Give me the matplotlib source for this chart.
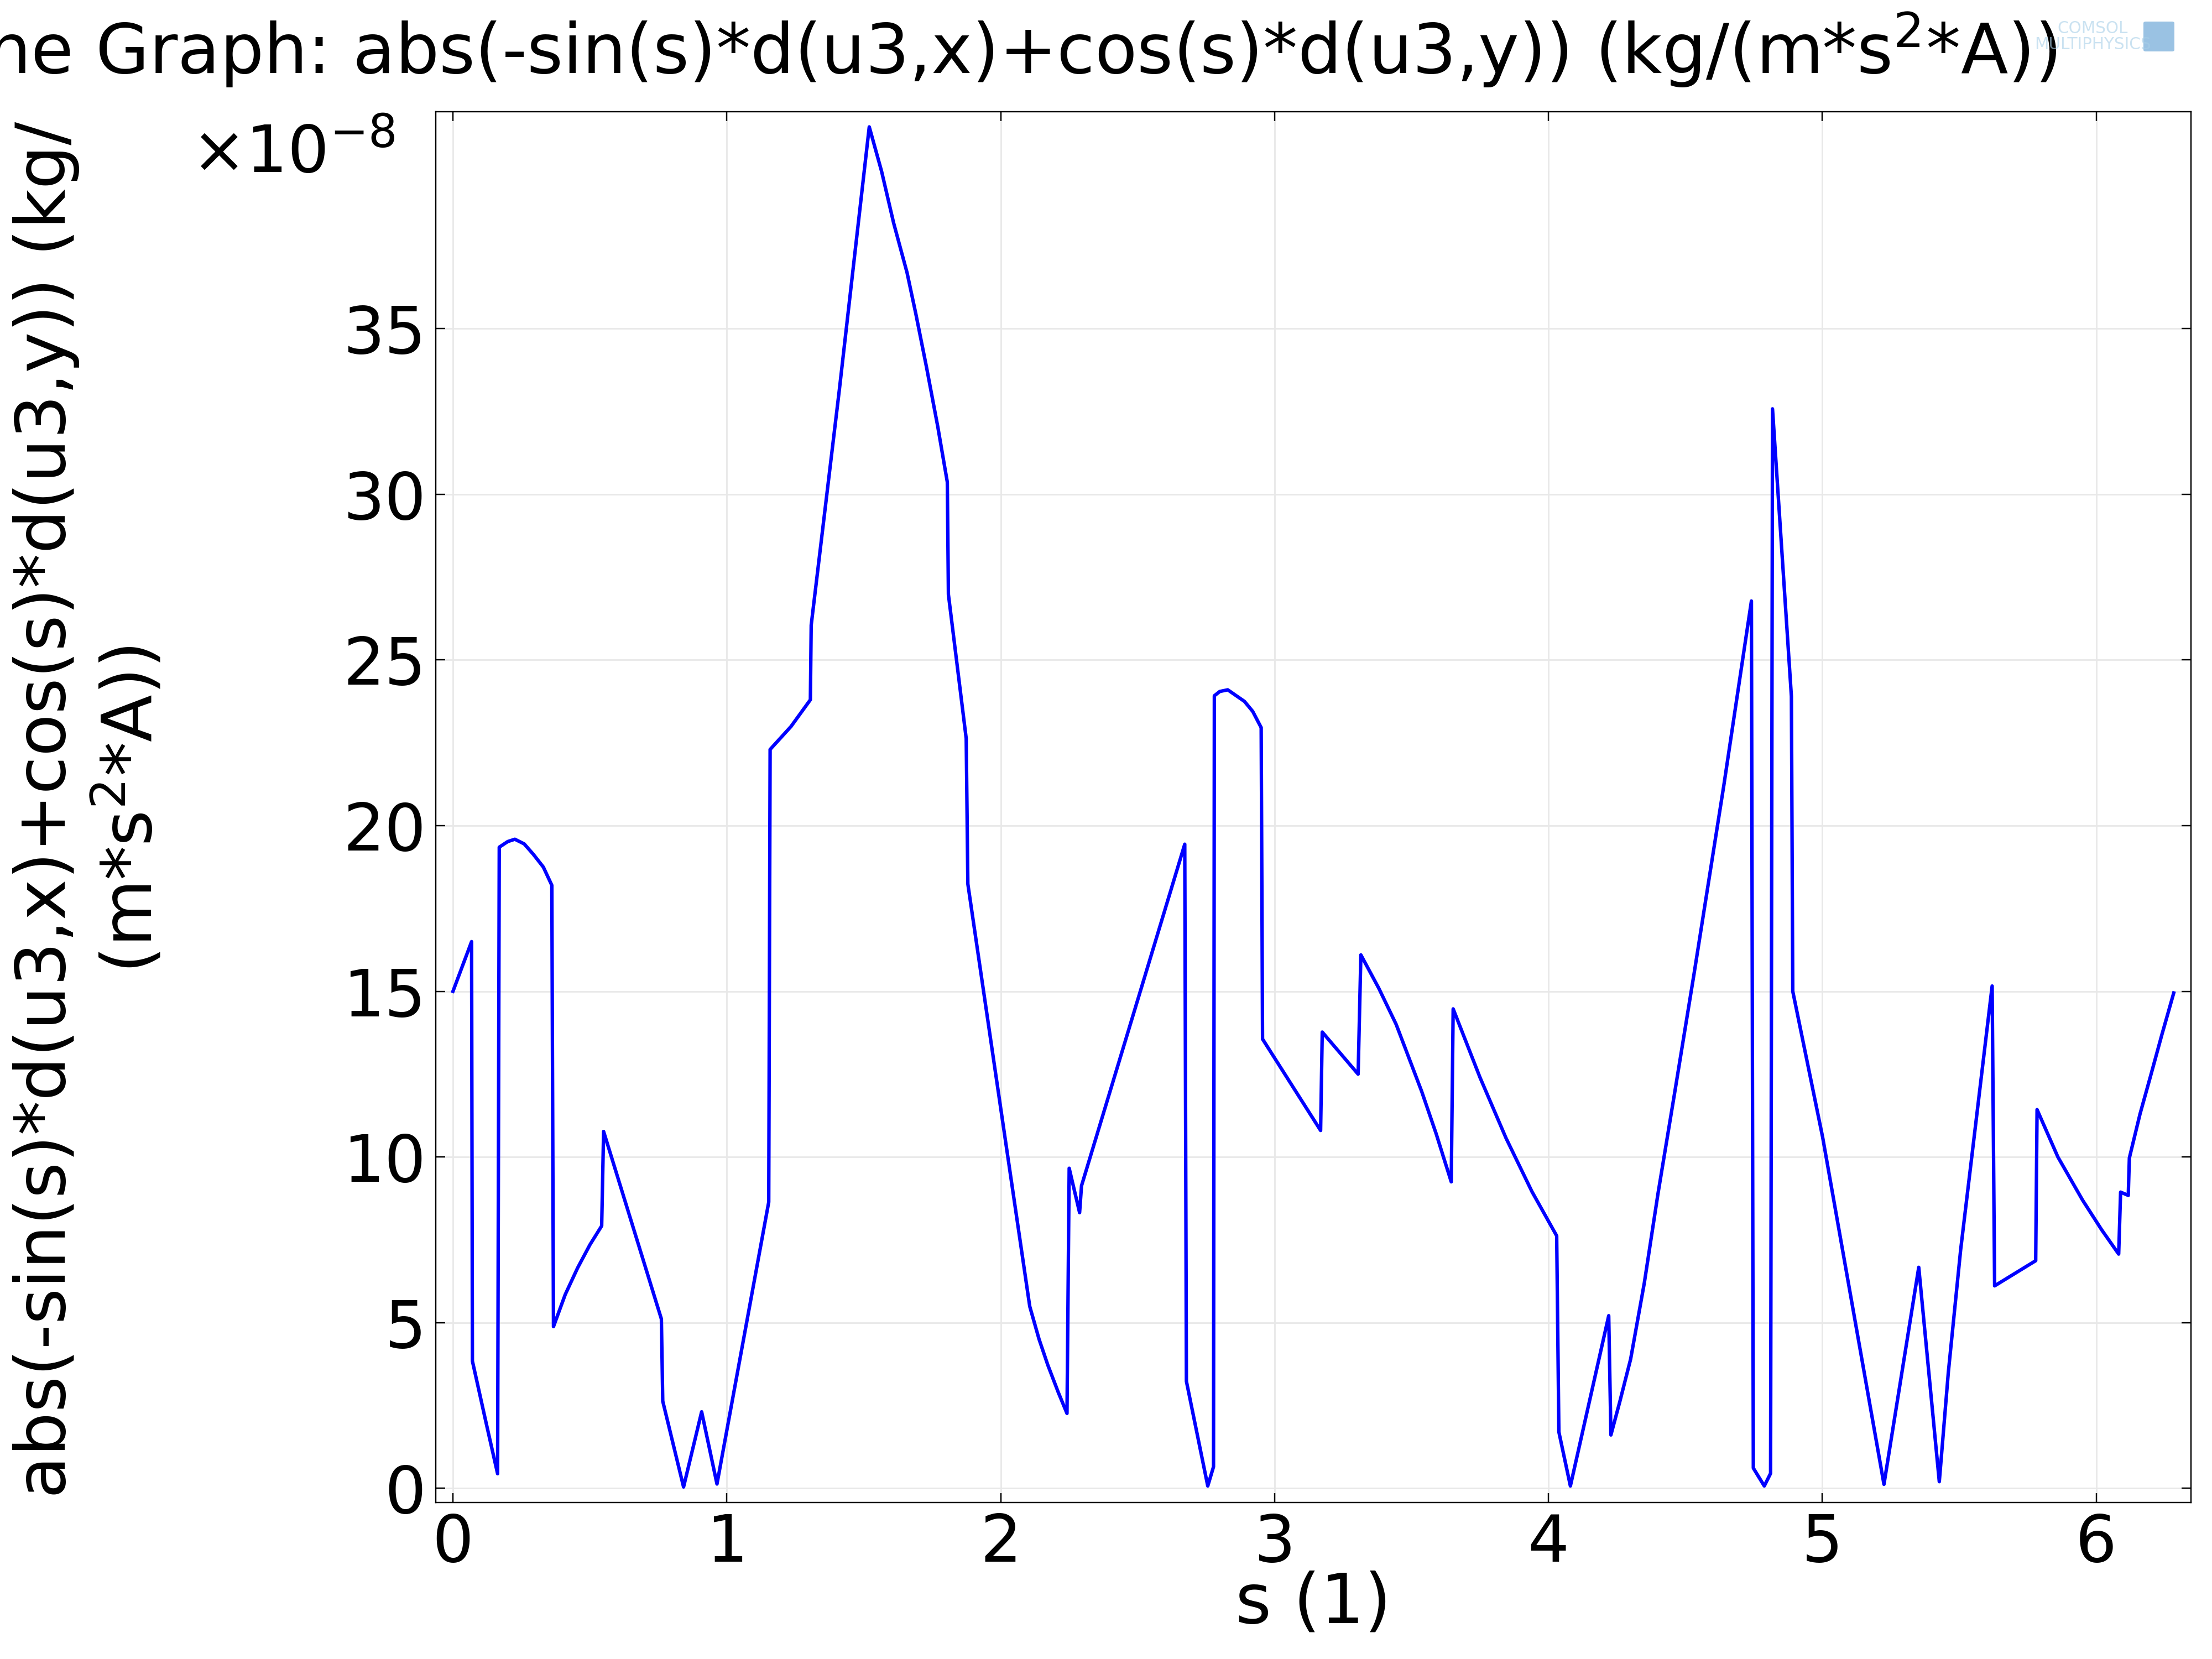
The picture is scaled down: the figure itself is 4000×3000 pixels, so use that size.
import matplotlib
matplotlib.use("Agg")
import matplotlib.pyplot as plt
from matplotlib.patches import FancyBboxPatch

# values (y in units of 1e-8)
s_vals = [0.000, 0.068, 0.071, 0.122, 0.163, 0.169, 0.200, 0.226, 0.260, 0.293,
          0.330, 0.361, 0.367, 0.410, 0.455, 0.500, 0.543, 0.550, 0.761, 0.766,
          0.842, 0.908, 0.964, 1.153, 1.158, 1.234, 1.305, 1.308, 1.411, 1.520,
          1.565, 1.609, 1.658, 1.690, 1.729, 1.770, 1.805, 1.809, 1.874, 1.880,
          2.106, 2.140, 2.172, 2.210, 2.242, 2.250, 2.288, 2.295, 2.672, 2.678,
          2.756, 2.777, 2.780, 2.800, 2.829, 2.890, 2.920, 2.951, 2.956, 3.168,
          3.174, 3.305, 3.315, 3.380, 3.444, 3.537, 3.590, 3.645, 3.652, 3.750,
          3.845, 3.940, 4.030, 4.038, 4.080, 4.220, 4.228, 4.260, 4.300, 4.350,
          4.400, 4.460, 4.531, 4.640, 4.741, 4.748, 4.788, 4.811, 4.818, 4.887,
          4.892, 5.001, 5.110, 5.225, 5.352, 5.427, 5.460, 5.505, 5.560, 5.620,
          5.629, 5.779, 5.784, 5.860, 5.950, 6.020, 6.082, 6.089, 6.117, 6.121,
          6.160, 6.198, 6.240, 6.283]
abs_vals = [15.00, 16.50, 3.84, 1.94, 0.44, 19.35, 19.52, 19.59, 19.45, 19.14,
            18.75, 18.20, 4.88, 5.85, 6.65, 7.35, 7.92, 10.77, 5.11, 2.63,
            0.04, 2.31, 0.13, 8.64, 22.30, 22.99, 23.80, 26.05, 33.17, 41.09,
            39.75, 38.19, 36.69, 35.45, 33.84, 32.05, 30.37, 26.98, 22.63, 18.24,
            5.49, 4.50, 3.72, 2.90, 2.26, 9.66, 8.32, 9.13, 19.44, 3.23,
            0.07, 0.65, 23.92, 24.05, 24.10, 23.75, 23.45, 22.96, 13.56, 10.80,
            13.77, 12.50, 16.10, 15.10, 14.00, 11.98, 10.70, 9.25, 14.47, 12.40,
            10.57, 8.95, 7.62, 1.70, 0.07, 5.21, 1.61, 2.60, 3.90, 6.20,
            8.90, 11.90, 15.50, 21.20, 26.78, 0.61, 0.07, 0.45, 32.58, 23.90,
            15.00, 10.60, 5.50, 0.12, 6.67, 0.20, 3.50, 7.20, 11.00, 15.16,
            6.11, 6.87, 11.43, 10.00, 8.70, 7.80, 7.07, 8.94, 8.84, 9.97,
            11.30, 12.43, 13.70, 14.95]

x_ticks = [0, 1, 2, 3, 4, 5, 6]
y_ticks = [0, 5, 10, 15, 20, 25, 30, 35]

title_text = r"Line Graph: abs(-sin(s)*d(u3,x)+cos(s)*d(u3,y)) (kg/(m*s$^{2}$*A))"
ylabel_text = "abs(-sin(s)*d(u3,x)+cos(s)*d(u3,y)) (kg/\n" + r"(m*s$^{2}$*A))"
xlabel_text = "s (1)"

FS_TICK = 34
FS_LABEL = 36

fig = plt.figure(figsize=(16, 12), dpi=250, facecolor="white")
ax = fig.add_axes([0.197, 0.0943, 0.7935, 0.8384])

ax.plot(s_vals, abs_vals, color="#0000ff", linewidth=1.8, zorder=3)

ax.set_xlim(-0.0628, 6.346)
ax.set_ylim(-0.43, 41.55)
ax.set_xticks(x_ticks)
ax.set_yticks(y_ticks)
ax.grid(True, color="#e8e8e8", linewidth=0.8)
ax.set_axisbelow(True)

ax.tick_params(axis="both", direction="in", length=5, width=0.7,
               top=True, right=True, labelsize=FS_TICK, pad=5)
for sp in ax.spines.values():
    sp.set_linewidth(0.7)
    sp.set_color("black")

ax.set_xlabel(xlabel_text, fontsize=FS_LABEL, labelpad=-3)

# y label (two centred lines), offset text and cut-off title
fig.text(0.0405, 0.512, ylabel_text, rotation=90, ha="center", va="center",
         multialignment="center", fontsize=FS_LABEL, linespacing=1.22)
fig.text(0.1786, 0.896, r"$\times$10$^{-8}$", ha="right", va="baseline", fontsize=FS_TICK)
fig.text(0.930, 0.9558, title_text, ha="right", va="baseline", fontsize=FS_LABEL)

# faint COMSOL logo at top right
fig.text(0.946, 0.978, "COMSOL\nMULTIPHYSICS", color="#a8cfe8", alpha=0.6,
         fontsize=8.5, ha="center", va="center", linespacing=1.0)
fig.patches.append(FancyBboxPatch((0.970, 0.970), 0.012, 0.016,
                                  boxstyle="round,pad=0.001", transform=fig.transFigure,
                                  facecolor="#6fa8d8", edgecolor="none", alpha=0.7))

fig.savefig("out.png", dpi=250, facecolor="white")
